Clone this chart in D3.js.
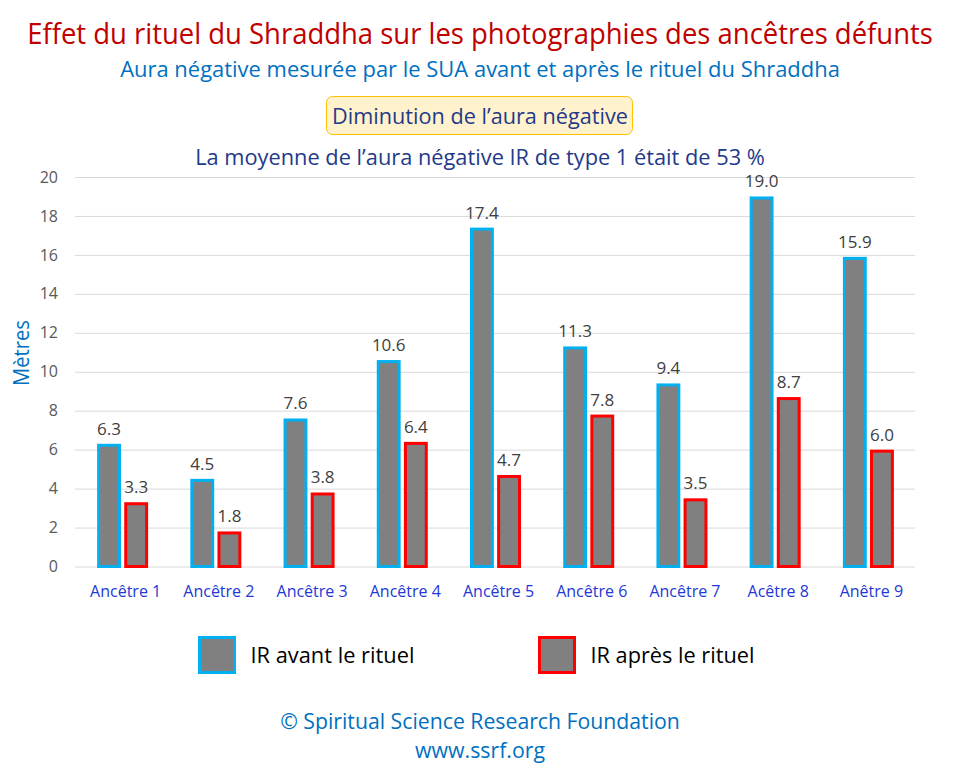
<!DOCTYPE html>
<html>
<head>
<meta charset="utf-8">
<script src="https://cdn.jsdelivr.net/npm/d3@7"></script>
<style>
  body { margin: 0; background: #fff; }
  svg { font-family: "Open Sans", "Noto Sans", sans-serif; }
</style>
</head>
<body>
<div id="container"></div>
<script>
// données
const categories = ["Ancêtre 1", "Ancêtre 2", "Ancêtre 3", "Ancêtre 4", "Ancêtre 5",
  "Ancêtre 6", "Ancêtre 7", "Acêtre 8", "Anêtre 9"];
const avant = [6.3, 4.5, 7.6, 10.6, 17.4, 11.3, 9.4, 19.0, 15.9];
const apres = [3.3, 1.8, 3.8, 6.4, 4.7, 7.8, 3.5, 8.7, 6.0];
const seriesNames = ["IR avant le rituel", "IR après le rituel"];
const yTicks = [0, 2, 4, 6, 8, 10, 12, 14, 16, 18, 20];

const width = 960, height = 770;
const plotLeft = 75, plotRight = 915, plotTop = 177, plotBottom = 566.5;

const blue = "#00B0F0", red = "#FF0000", grey = "#808080";

const svg = d3.select("#container").append("svg")
  .attr("width", width)
  .attr("height", height)
  .attr("viewBox", [0, 0, width, height]);

// texte centré, resserré horizontalement pour imiter Calibri
function squeezed(parent, txt, xPos, yPos, size, len, color, anchor = "middle") {
  const t = parent.append("text")
    .attr("text-anchor", anchor)
    .attr("fill", color)
    .attr("font-size", size)
    .text(txt);
  const natural = t.node().getComputedTextLength();
  const sx = Math.min(1, len / natural);
  t.attr("transform", `translate(${xPos}, ${yPos}) scale(${sx}, 1)`);
  return t;
}

squeezed(svg, "Effet du rituel du Shraddha sur les photographies des ancêtres défunts", 480, 44, 29, 906, "#C00000");
squeezed(svg, "Aura négative mesurée par le SUA avant et après le rituel du Shraddha", 480, 77, 22, 720, "#0070C0");

svg.append("rect")
  .attr("x", 326.5).attr("y", 96.5)
  .attr("width", 306).attr("height", 38)
  .attr("rx", 6)
  .attr("fill", "#FFF2CC")
  .attr("stroke", "#FFC000")
  .attr("stroke-width", 1);

squeezed(svg, "Diminution de l’aura négative", 480, 124, 22, 296, "#1F3A8A");
squeezed(svg, "La moyenne de l’aura négative IR de type 1 était de 53 %", 480, 165, 22, 570, "#1F3A8A");

// échelles
const x0 = d3.scaleBand(categories, [plotLeft + 1, plotRight]);
const x1 = d3.scaleBand([0, 1], [0, 51]).paddingInner(0.12);
const y = d3.scaleLinear([0, 20], [plotBottom, plotTop]);

// grille + axe y
const yAxis = d3.axisLeft(y).tickValues(yTicks).tickSize(0).tickPadding(0);
svg.append("g")
  .attr("transform", `translate(${plotLeft}, 0)`)
  .call(yAxis)
  .call((g) => g.select(".domain").remove())
  .call((g) => g.selectAll(".tick text")
    .attr("x", -17)
    .attr("fill", "#595959")
    .attr("font-size", 16)
    .attr("font-family", "'Open Sans', sans-serif"))
  .call((g) => g.selectAll(".tick line")
    .attr("x2", plotRight - plotLeft)
    .attr("stroke", "#D9D9D9")
    .attr("stroke-width", 1));

svg.append("text")
  .attr("transform", `translate(29, 353) rotate(-90)`)
  .attr("text-anchor", "middle")
  .attr("fill", "#0070C0")
  .attr("font-size", 22)
  .attr("textLength", 66).attr("lengthAdjust", "spacingAndGlyphs")
  .text("Mètres");

// axe x
const xAxis = d3.axisBottom(x0).tickSize(0).tickPadding(0);
svg.append("g")
  .attr("transform", `translate(0, ${plotBottom})`)
  .call(xAxis)
  .call((g) => g.select(".domain").remove())
  .call((g) => g.selectAll(".tick text")
    .attr("dy", 0)
    .attr("x", 3)
    .attr("y", 30)
    .attr("fill", "#2438D6")
    .attr("font-size", 16)
    .attr("font-family", "'Open Sans', sans-serif"));

// barres
const rows = categories.map((c, i) => ({ cat: c, values: [avant[i], apres[i]] }));
const groupOffset = (x0.bandwidth() - 51) / 2;

const groups = svg.append("g")
  .selectAll("g")
  .data(rows)
  .join("g")
  .attr("transform", (d) => `translate(${x0(d.cat) + groupOffset}, 0)`);

groups.selectAll("rect")
  .data((d) => d.values.map((v, k) => ({ v, k })))
  .join("rect")
  .attr("x", (d) => x1(d.k) + 1.5)
  .attr("y", (d) => y(d.v) + 1.5)
  .attr("width", x1.bandwidth() - 3)
  .attr("height", (d) => y(0) - y(d.v) - 1.5)
  .attr("fill", grey)
  .attr("stroke", (d) => (d.k === 0 ? blue : red))
  .attr("stroke-width", 3);

groups.selectAll("text")
  .data((d) => d.values.map((v, k) => ({ v, k })))
  .join("text")
  .attr("x", (d) => x1(d.k) + x1.bandwidth() / 2)
  .attr("y", (d) => y(d.v) - 9)
  .attr("text-anchor", "middle")
  .attr("fill", "#404040")
  .attr("font-size", 17)
  .text((d) => d.v.toFixed(1));

// légende
const legend = svg.append("g")
  .selectAll("g")
  .data(seriesNames)
  .join("g")
  .attr("transform", (d, i) => `translate(${[199.5, 539.5][i]}, 637.5)`);

legend.append("rect")
  .attr("width", 35).attr("height", 35)
  .attr("fill", grey)
  .attr("stroke", (d, i) => (i === 0 ? blue : red))
  .attr("stroke-width", 3);

legend.each(function (d) {
  squeezed(d3.select(this), d, 51, 25, 22, 164, "#000", "start");
});

// pied de page
squeezed(svg, "© Spiritual Science Research Foundation", 480, 729, 22, 400, "#0070C0");
squeezed(svg, "www.ssrf.org", 480, 758, 22, 130, "#0070C0");
</script>
</body>
</html>
